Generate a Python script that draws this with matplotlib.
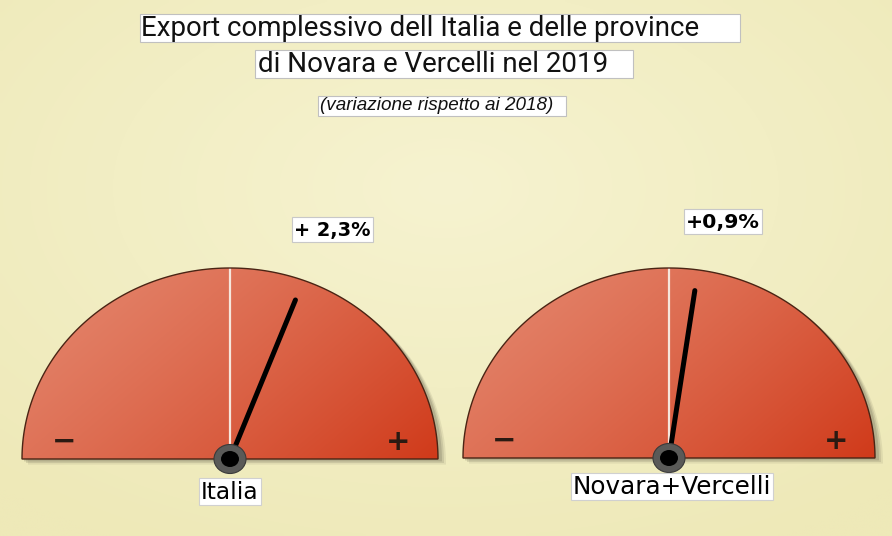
import numpy as np
import matplotlib
matplotlib.use("Agg")
import matplotlib.pyplot as plt
from matplotlib.patches import Polygon, Ellipse, Rectangle
from matplotlib.colors import to_rgb

# data
gauge_names = ["Italia", "Novara+Vercelli"]
changes = [2.3, 0.9]              # variazione % 2019 vs 2018
change_labels = ["+ 2,3%", "+0,9%"]
scale_max = 10.0                  # fondo scala del quadrante (+/-10%)

title_lines = ["Export complessivo dell Italia e delle province",
               "di Novara e Vercelli nel 2019"]
subtitle = "(variazione rispetto ai 2018)"

W, H = 892, 536
fig = plt.figure(figsize=(W / 100, H / 100), dpi=100)
ax = fig.add_axes([0, 0, 1, 1])
ax.set_xlim(0, W)
ax.set_ylim(H, 0)
ax.axis("off")

# background, pale yellow
yy, xx = np.mgrid[0:1:120j, 0:1:200j]
r = np.sqrt((xx - 0.5) ** 2 + (yy - 0.35) ** 2)
c0 = np.array(to_rgb("#f6f3d0"))
c1 = np.array(to_rgb("#eee9b8"))
bg = c0 + (c1 - c0) * np.clip(r / 0.75, 0, 1)[..., None]
ax.imshow(bg, extent=(0, W, H, 0), aspect="auto", zorder=0, interpolation="bilinear")

light = np.array(to_rgb("#e4866d"))
dark = np.array(to_rgb("#d03a1a"))

# gauge geometry (pixels)
gauges = [dict(cx=230, cy=459, rx=208, ry=191), dict(cx=669, cy=458, rx=206, ry=190)]


def half_ellipse(cx, cy, rx, ry, dx=0, dy=0):
    th = np.linspace(0, np.pi, 200)
    pts = np.column_stack([cx + dx + rx * np.cos(th), cy + dy - ry * np.sin(th)])
    return pts


def fitted_text(x, y, s, width, size, **kw):
    t = ax.text(x, y, s, fontsize=size, ha="left", va="center", zorder=10, **kw)
    fig.canvas.draw()
    w = t.get_window_extent().width
    t.set_fontsize(size * width / w)
    return t


for g, name, val, lab in zip(gauges, gauge_names, changes, change_labels):
    cx, cy, rx, ry = g["cx"], g["cy"], g["rx"], g["ry"]

    # shadow
    for k, a in [(7, 0.12), (5, 0.18), (3, 0.25)]:
        ax.add_patch(Polygon(half_ellipse(cx, cy, rx + 1, ry, dx=k, dy=k * 0.8), closed=True,
                             fc="#6e6a55", ec="none", alpha=a, zorder=1))

    # gauge face with gradient
    face = Polygon(half_ellipse(cx, cy, rx, ry), closed=True, fc="none",
                   ec="#4a2414", lw=1.0, zorder=4)
    ax.add_patch(face)
    v, u = np.mgrid[0:1:100j, 0:1:200j]
    t = np.clip(0.65 * u + 0.35 * v, 0, 1) ** 1.3
    grad = light + (dark - light) * t[..., None]
    im = ax.imshow(grad, extent=(cx - rx, cx + rx, cy, cy - ry), aspect="auto",
                   zorder=2, interpolation="bilinear")
    clip = Polygon(half_ellipse(cx, cy, rx, ry), closed=True, transform=ax.transData)
    im.set_clip_path(clip)

    # white zero line
    ax.plot([cx, cx], [cy, cy - ry], color="#f6e6dc", lw=1.6, zorder=3)

    # - / + signs
    ax.text(cx - 0.8 * rx, cy - 17, "\u2212", fontsize=21, fontweight="bold",
            color="#2a1a12", ha="center", va="center", zorder=5)
    ax.text(cx + 0.81 * rx, cy - 17, "+", fontsize=21, fontweight="bold",
            color="#2a1a12", ha="center", va="center", zorder=5)

    # needle
    ang = np.deg2rad(90 - 90 * val / scale_max)
    L = 0.89
    tx = cx + L * rx * np.cos(ang)
    ty = cy - L * ry * np.sin(ang)
    ax.plot([cx, tx], [cy, ty], color="black", lw=3.6, solid_capstyle="round", zorder=6)

    # hub
    ax.add_patch(Ellipse((cx, cy), 32, 29, fc="#5a5a58", ec="#3a3a3a", lw=0.8, zorder=7))
    ax.add_patch(Ellipse((cx, cy), 18, 16, fc="black", ec="none", zorder=8))

# value labels
val_boxes = [(292, 217, 81, 25), (684, 209, 78, 25)]
for (bx, by, bw, bh), lab in zip(val_boxes, change_labels):
    ax.add_patch(Rectangle((bx, by), bw, bh, fc="white", ec="#c8c8c8", lw=0.8, zorder=9))
    fitted_text(bx + 2, by + bh / 2 + 1, lab, bw - 4, 14, fontweight="bold", color="black")

# gauge names
name_boxes = [(199, 478, 62, 27), (571, 473, 202, 27)]
for (bx, by, bw, bh), name in zip(name_boxes, gauge_names):
    ax.add_patch(Rectangle((bx, by), bw, bh, fc="white", ec="#d0d0d0", lw=0.8, zorder=9))
    fitted_text(bx + 2, by + bh / 2 + 1, name, bw - 4, 16, color="black")

# titles
ax.add_patch(Rectangle((140, 14), 600, 28, fc="white", ec="#c0c0c0", lw=0.8, zorder=9))
fitted_text(141, 28, title_lines[0], 557, 20, family="Roboto", color="#111111")
ax.add_patch(Rectangle((255, 50), 378, 28, fc="white", ec="#c0c0c0", lw=0.8, zorder=9))
fitted_text(258, 64, title_lines[1], 350, 20, family="Roboto", color="#111111")
ax.add_patch(Rectangle((318, 96), 248, 20, fc="white", ec="#c0c0c0", lw=0.8, zorder=9))
fitted_text(320, 106, subtitle, 233, 12, style="italic", family="Liberation Sans",
            color="#111111")

fig.savefig("out.png", dpi=100)
